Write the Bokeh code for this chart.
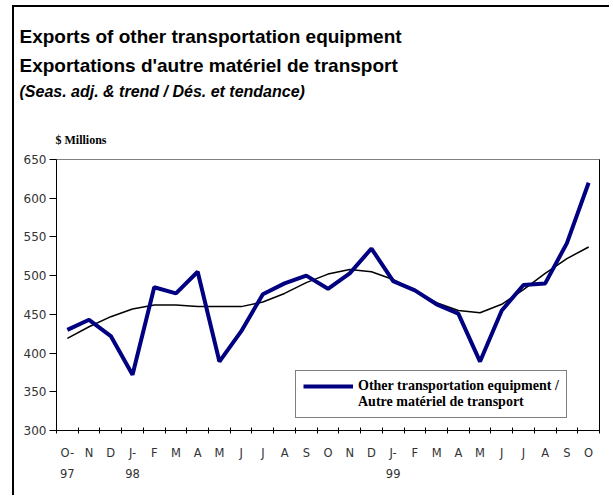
from bokeh.plotting import figure
from bokeh.models import (Range1d, LinearAxis, FixedTicker, Title, Legend, LegendItem,
                          ColumnDataSource)
from bokeh.embed import file_html
from bokeh.resources import INLINE

# ---- data ----
periods = ["1997-10", "1997-11", "1997-12", "1998-01", "1998-02", "1998-03",
           "1998-04", "1998-05", "1998-06", "1998-07", "1998-08", "1998-09",
           "1998-10", "1998-11", "1998-12", "1999-01", "1999-02", "1999-03",
           "1999-04", "1999-05", "1999-06", "1999-07", "1999-08", "1999-09",
           "1999-10"]
month_labels = ["O-", "N", "D", "J-", "F", "M", "A", "M", "J", "J", "A", "S",
                "O", "N", "D", "J-", "F", "M", "A", "M", "J", "J", "A", "S", "O"]
year_labels = ["97", "", "", "98", "", "", "", "", "", "", "", "",
               "", "", "", "99", "", "", "", "", "", "", "", "", ""]
exports = [430, 443, 422, 372, 485, 477, 505, 389, 428, 476, 490, 500,
           483, 503, 535, 493, 481, 463, 451, 389, 455, 488, 490, 542, 620]
trend = [419, 434, 447, 457, 462, 462, 460, 460, 460, 466, 477, 491,
         502, 508, 505, 495, 480, 465, 455, 452, 463, 482, 503, 522, 537]
y_ticks = [300, 350, 400, 450, 500, 550, 600, 650]

title1 = "Exports of other transportation equipment"
title2 = "Exportations d'autre matériel de transport"
title3 = "(Seas. adj. & trend / Dés. et tendance)"
unit_label = "$ Millions"
legend_line1 = "Other transportation equipment /"
legend_line2 = "Autre matériel de transport"

# category slots: each month occupies one unit, centred at i + 0.5
n = len(periods)
centers = [i + 0.5 for i in range(n)]
bounds = list(range(n + 1))
src = ColumnDataSource(data=dict(x=centers, period=periods, exports=exports, trend=trend))

# ---- figure ----
p = figure(width=597, height=490,
           x_range=Range1d(0, n), y_range=Range1d(300, 650),
           output_backend="svg", toolbar_location=None,
           x_axis_location=None,
           min_border_left=42, min_border_right=12,
           min_border_top=152, min_border_bottom=67,
           styles={"position": "relative", "left": "12px", "top": "5px",
                   "border-left": "2px solid #000", "border-top": "2px solid #000"})
p.background_fill_color = "white"
p.border_fill_color = "white"
p.outline_line_color = "#808080"
p.outline_line_width = 1
p.grid.grid_line_color = None

# y axis
ya = p.yaxis[0]
ya.ticker = FixedTicker(ticks=y_ticks)
ya.axis_line_color = "black"
ya.major_tick_out = 7
ya.major_tick_in = 0
ya.minor_tick_out = 0
ya.minor_tick_in = 0
ya.major_tick_line_color = "black"
ya.major_label_standoff = 3
ya.major_label_text_font = "DejaVu Sans"
ya.major_label_text_font_size = "12px"
ya.major_label_text_color = "#333333"

# right border as an empty axis
ra = LinearAxis(ticker=FixedTicker(ticks=[]), major_label_text_font_size="0px",
                major_tick_out=0, major_tick_in=0, minor_tick_out=0, minor_tick_in=0,
                axis_line_color="black", major_label_standoff=0)
p.add_layout(ra, "right")

# bottom: boundary ticks axis
ax1 = LinearAxis(ticker=FixedTicker(ticks=bounds),
                 major_tick_in=3, major_tick_out=3, minor_tick_in=0, minor_tick_out=0,
                 major_label_text_font_size="0px", major_label_standoff=0,
                 axis_line_color="black", major_tick_line_color="black")
p.add_layout(ax1, "below")

ax2 = LinearAxis(ticker=FixedTicker(ticks=centers),
                 major_label_overrides=dict(zip(centers, month_labels)),
                 major_tick_in=0, major_tick_out=0, minor_tick_in=0, minor_tick_out=0,
                 axis_line_color=None, major_label_standoff=12,
                 major_label_text_font="DejaVu Sans",
                 major_label_text_font_size="11.5px",
                 major_label_text_color="#333333")
p.add_layout(ax2, "below")

ax3 = LinearAxis(ticker=FixedTicker(ticks=centers),
                 major_label_overrides=dict(zip(centers, year_labels)),
                 major_tick_in=0, major_tick_out=0, minor_tick_in=0, minor_tick_out=0,
                 axis_line_color=None, major_label_standoff=6,
                 major_label_text_font="DejaVu Sans",
                 major_label_text_font_size="11.5px",
                 major_label_text_color="#333333")
p.add_layout(ax3, "below")

# lines
trend_r = p.line(x="x", y="trend", source=src, line_color="black", line_width=1.5)
exp_r = p.line(x="x", y="exports", source=src, line_color="#000080", line_width=4)
dummy_r = p.line(x=[], y=[], line_alpha=0)

legend = Legend(items=[LegendItem(label=legend_line1, renderers=[exp_r]),
                       LegendItem(label=legend_line2, renderers=[dummy_r])],
                location=(239, 12), margin=0, padding=7, spacing=-2,
                glyph_width=50, glyph_height=12, label_height=12,
                label_standoff=5,
                label_text_font="Liberation Serif", label_text_font_style="bold",
                label_text_font_size="14px", label_text_line_height=0.8,
                label_text_color="black",
                border_line_color="black", border_line_width=1,
                background_fill_color="white", background_fill_alpha=1)
p.add_layout(legend)

# titles stacked above the frame (first added sits nearest the frame)
def add_title(txt, font, size, style, standoff, offset):
    p.add_layout(Title(text=txt, align="left", offset=offset, standoff=standoff,
                       text_font=font, text_font_size=size, text_font_style=style,
                       text_color="black"), "above")

add_title(unit_label, "Liberation Serif", "12px", "bold", 25, -1)
add_title(" ", "Liberation Sans", "1px", "normal", 16, 0)   # vertical spacer
add_title(title3, "Liberation Sans", "16px", "bold italic", 0, -37)
add_title(title2, "Liberation Sans", "19px", "bold", 9, -37)
add_title(title1, "Liberation Sans", "19px", "bold", 4, -37)

open("out.html", "w").write(file_html(p, INLINE))
